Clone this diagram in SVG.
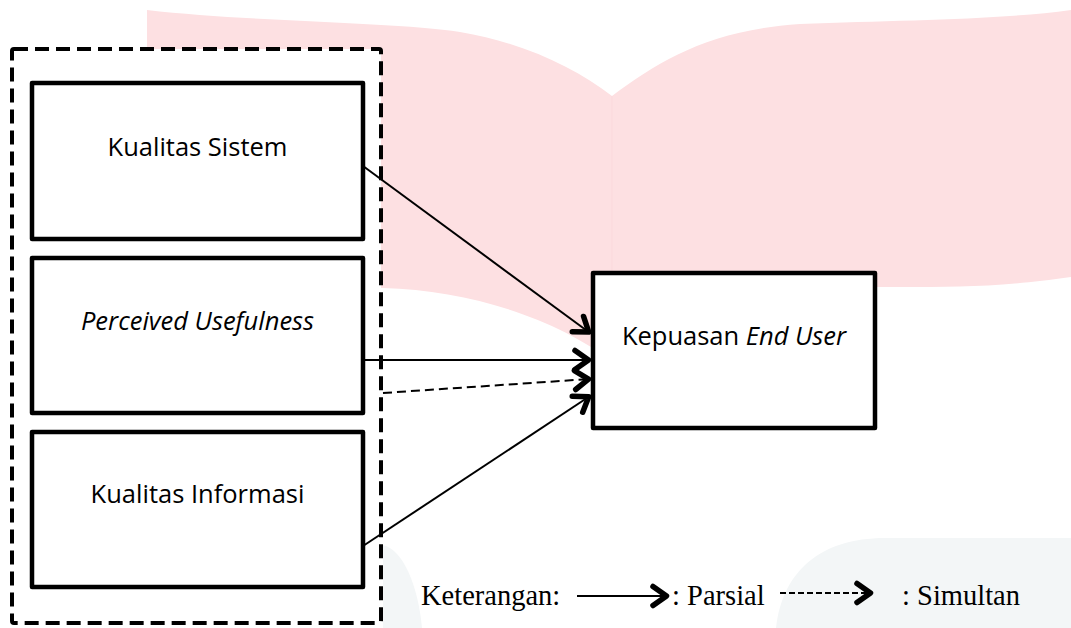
<svg xmlns="http://www.w3.org/2000/svg" width="1071" height="628" viewBox="0 0 1071 628">
<style>
.box{fill:#fff;stroke:#000;stroke-width:4.5;stroke-linejoin:round}
.lbl{font-family:"Open Sans","Noto Sans",sans-serif;font-size:25.5px;fill:#000;text-anchor:middle}
.leg{font-family:"Liberation Serif","Times New Roman",serif;font-size:28.5px;fill:#000}
.con{stroke:#000;stroke-width:2;fill:none}
.dash{stroke-dasharray:9 5}
</style>
<defs>
<marker id="ah" markerUnits="userSpaceOnUse" viewBox="-22 -14 26 28" refX="0" refY="0" markerWidth="26" markerHeight="28" orient="auto">
<path d="M-15,-9.5 L-1.5,0 L-15,9.5" fill="none" stroke="#000" stroke-width="5.5" stroke-linecap="round" stroke-linejoin="round"/>
</marker>
</defs>
<rect width="1071" height="628" fill="#fff"/>
<g id="background">
<path d="M147 10 C250 22 400 22 460 32 C525 43 575 68 612 96 C660 60 710 30 800 24 C900 20 1000 20 1071 10 L1071 277 C1000 287 960 287 900 287 L612 287 L612 362 C560 320 470 290 383 288 L147 288 Z" fill="#fde0e2"/>
<line x1="612" y1="96" x2="612" y2="290" stroke="#fbd9dc" stroke-width="1"/>
<path d="M383 545 C403 550 418 585 422 628 L383 628 Z" fill="#f3f6f7"/>
<path d="M776 628 C782 572 820 538 885 538 L1071 538 L1071 628 Z" fill="#f3f6f7"/>
</g>
<g id="group-box">
<rect x="12" y="49" width="369" height="574" rx="2" fill="#fff" stroke="#000" stroke-width="4" stroke-dasharray="14 7"/>
</g>
<g id="node-kualitas-sistem">
<rect class="box" x="32" y="83" width="331" height="156"/>
<text class="lbl" x="197.5" y="156">Kualitas Sistem</text>
</g>
<g id="node-perceived-usefulness">
<rect class="box" x="32" y="258" width="331" height="155"/>
<text class="lbl" x="197.5" y="330" font-style="italic" font-size="27">Perceived Usefulness</text>
</g>
<g id="node-kualitas-informasi">
<rect class="box" x="32" y="432" width="331" height="155"/>
<text class="lbl" x="197.5" y="503">Kualitas Informasi</text>
</g>
<g id="node-kepuasan">
<rect class="box" x="593" y="273" width="282" height="155"/>
<text class="lbl" x="734" y="345">Kepuasan <tspan font-style="italic">End User</tspan></text>
</g>
<g id="connectors">
<line class="con" x1="363" y1="166" x2="590" y2="333" marker-end="url(#ah)"/>
<line class="con" x1="363" y1="360" x2="590" y2="360" marker-end="url(#ah)"/>
<line class="con dash" x1="383" y1="393" x2="590" y2="379" marker-end="url(#ah)"/>
<line class="con" x1="363" y1="546" x2="590" y2="396" marker-end="url(#ah)"/>
</g>
<g id="legend">
<text class="leg" x="421" y="605">Keterangan:</text>
<line class="con" x1="577" y1="596" x2="668" y2="596" marker-end="url(#ah)"/>
<text class="leg" x="672" y="605">: Parsial</text>
<line class="con" x1="780" y1="593" x2="872" y2="593" stroke-width="2.5" stroke-dasharray="6 3" marker-end="url(#ah)"/>
<text class="leg" x="902" y="605">: Simultan</text>
</g>
</svg>
